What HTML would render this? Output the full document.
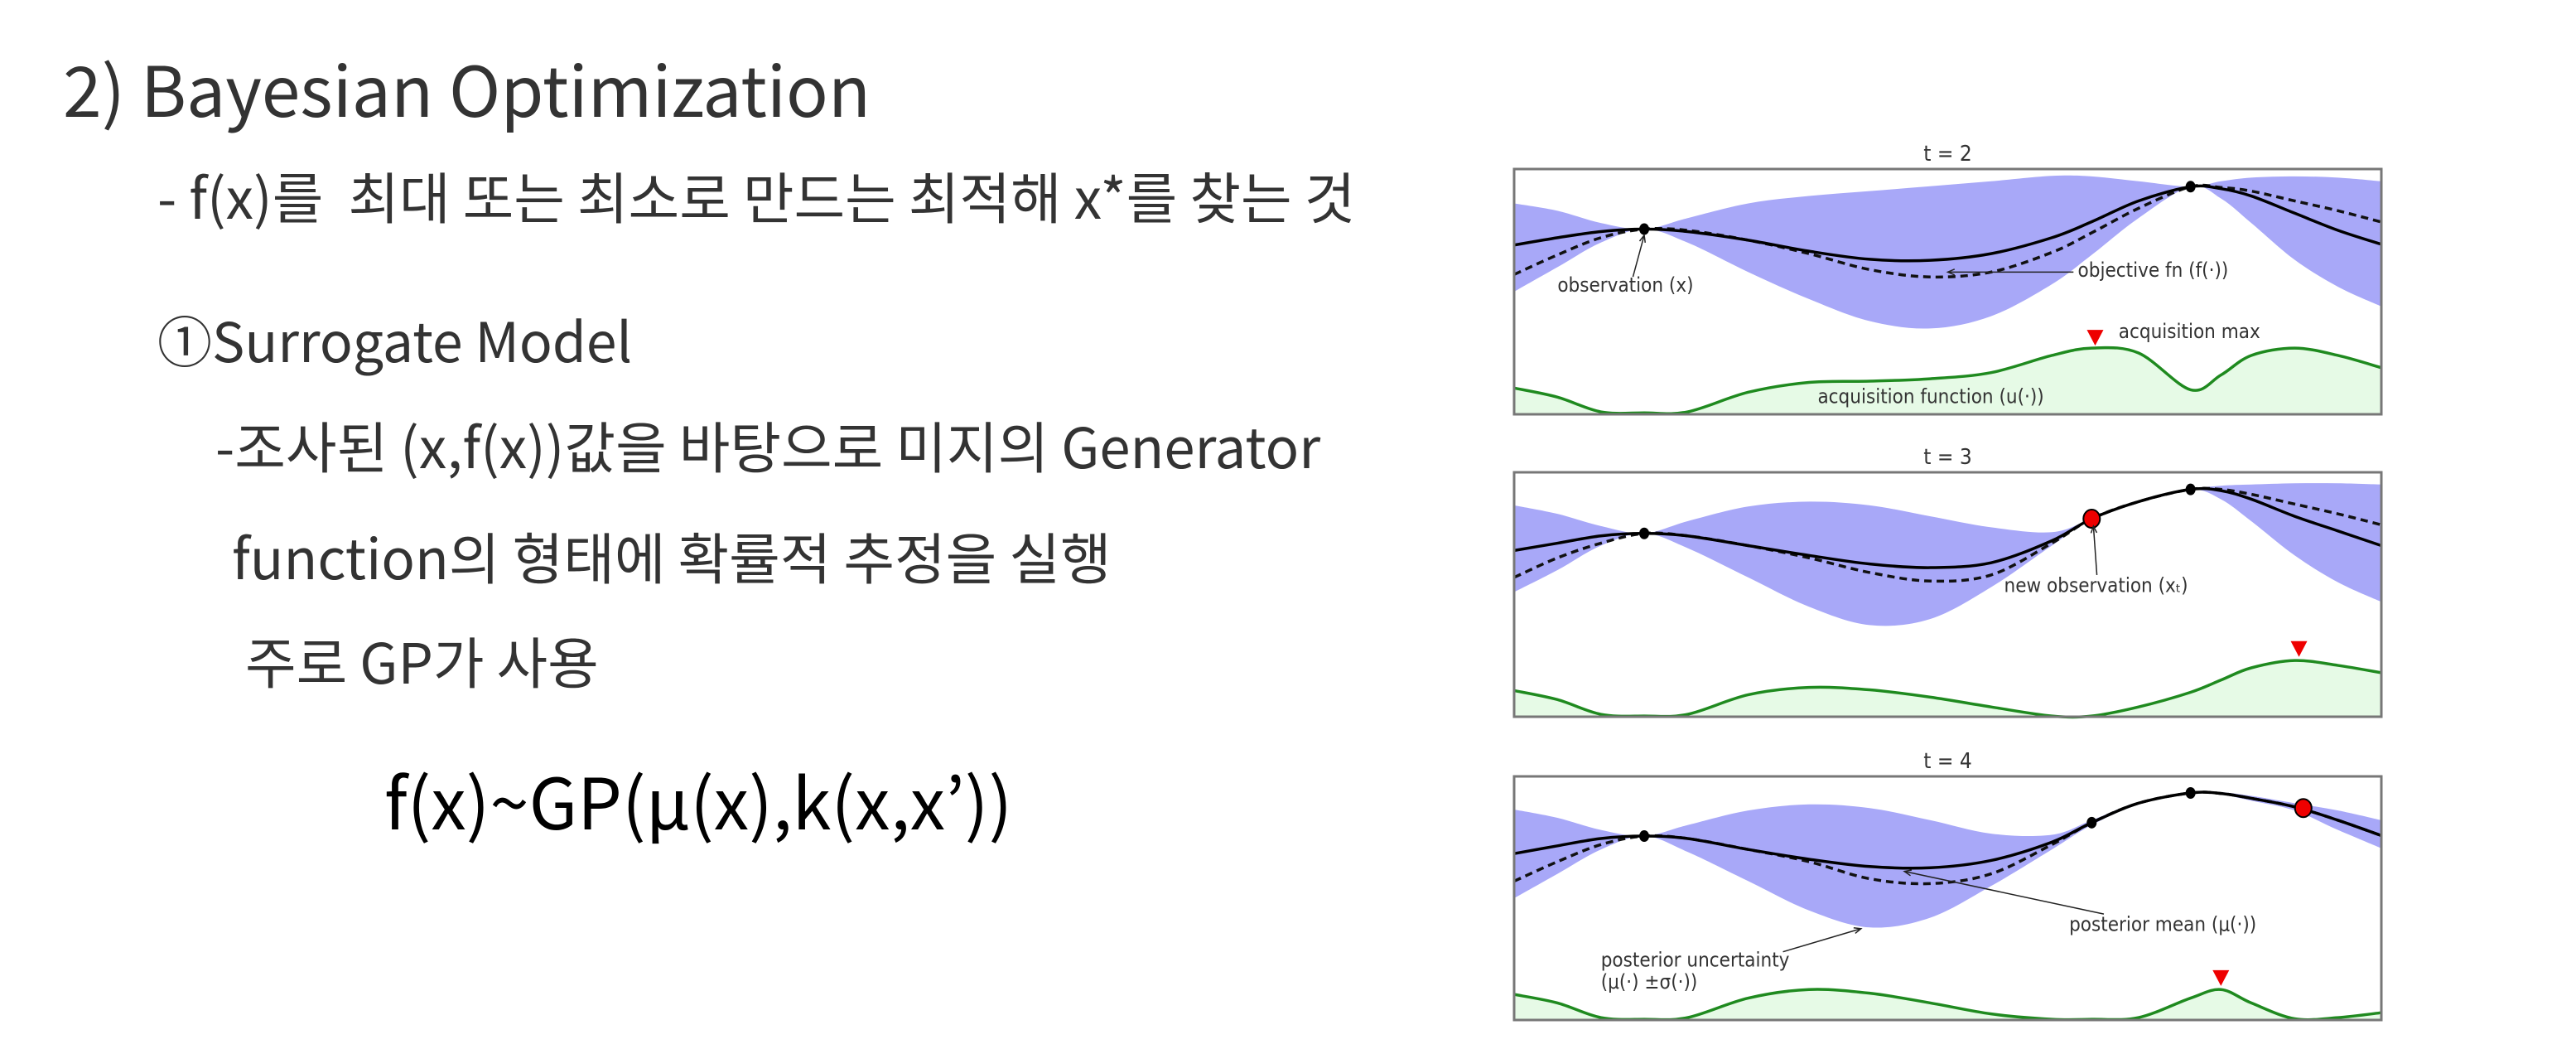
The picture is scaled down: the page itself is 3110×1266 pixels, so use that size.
<!DOCTYPE html>
<html><head><meta charset="utf-8">
<style>
html,body{margin:0;padding:0;background:#fff;}
body{width:3110px;height:1266px;position:relative;overflow:hidden;font-family:"Noto Sans CJK KR","Liberation Sans",sans-serif;color:#333;}
.t{position:absolute;white-space:nowrap;line-height:1;}
</style></head>
<body>
<div class="t" style="left:76px;top:64px;font-size:84px;">2) Bayesian Optimization</div>
<div class="t" style="left:190px;top:202px;font-size:67px;">- f(x)를&nbsp; 최대 또는 최소로 만드는 최적해 x*를 찾는 것</div>
<div class="t" style="left:190px;top:376px;font-size:66px;">①Surrogate Model</div>
<div class="t" style="left:260px;top:503px;font-size:67px;">-조사된 (x,f(x))값을 바탕으로 미지의 Generator</div>
<div class="t" style="left:280px;top:637px;font-size:67px;">function의 형태에 확률적 추정을 실행</div>
<div class="t" style="left:296px;top:763px;font-size:67px;">주로 GP가 사용</div>
<div class="t" style="left:464px;top:922px;font-size:85px;color:#000;">f(x)~GP(μ(x),k(x,x’))</div>

<svg id="chart" width="3110" height="1266" style="position:absolute;left:0;top:0;" xmlns="http://www.w3.org/2000/svg"></svg>

<script>
const gridX = [0,.05,.1,.15,.2,.27,.34,.41,.48,.55,.62,.666,.72,.78,.815,.85,.9,.95,1];
// panel t=2
const p1Mean  = [.31,.28,.255,.245,.255,.29,.335,.368,.372,.345,.28,.215,.13,.072,.08,.11,.18,.25,.307];
const p1Obj   = [.43,.35,.28,.245,.25,.29,.345,.41,.44,.42,.34,.26,.16,.072,.075,.09,.13,.17,.216];
const p1Upper = [.14,.17,.22,.245,.2,.14,.11,.09,.07,.05,.028,.03,.05,.072,.05,.035,.03,.035,.05];
const p1Lower = [.5,.4,.3,.245,.3,.42,.53,.62,.65,.6,.47,.35,.2,.072,.12,.22,.37,.48,.56];
const p1Acq   = [.893,.93,.99,.994,.99,.91,.87,.865,.855,.83,.76,.73,.75,.9,.84,.76,.73,.76,.81];
const p1ObsX = [.15,.78]; const p1ObsY = [.245,.072]; const p1NewX = []; const p1NewY = [];
const p1MaxX = .67; const p1MaxY = .72;
// panel t=3
const p2Mean  = [.32,.29,.26,.25,.26,.3,.34,.375,.39,.37,.28,.19,.12,.07,.075,.11,.18,.24,.30];
const p2Obj   = [.43,.35,.29,.25,.26,.3,.35,.41,.445,.42,.29,.19,.12,.07,.07,.09,.13,.17,.215];
const p2Upper = [.135,.17,.22,.25,.2,.14,.12,.135,.18,.225,.245,.19,.12,.07,.055,.05,.045,.045,.05];
const p2Lower = [.49,.4,.3,.25,.31,.43,.55,.625,.6,.47,.3,.19,.12,.07,.11,.2,.34,.45,.53];
const p2Acq   = [.893,.93,.99,.997,.99,.91,.88,.89,.92,.96,.997,.997,.96,.9,.85,.8,.77,.79,.82];
const p2ObsX = [.15,.78]; const p2ObsY = [.25,.07]; const p2NewX = [.666]; const p2NewY = [.19];
const p2MaxX = .905; const p2MaxY = .755;
// panel t=4
const p3Mean  = [.317,.285,.255,.245,.255,.3,.34,.37,.375,.345,.27,.19,.11,.068,.07,.09,.125,.18,.243];
const p3Obj   = [.43,.35,.28,.245,.255,.3,.35,.42,.44,.4,.28,.19,.11,.068,.07,.09,.125,.18,.243];
const p3Upper = [.136,.17,.22,.245,.2,.14,.115,.13,.18,.235,.24,.18,.105,.065,.065,.08,.11,.14,.18];
const p3Lower = [.5,.4,.3,.245,.31,.43,.55,.62,.58,.45,.3,.2,.115,.072,.075,.1,.14,.22,.295];
const p3Acq   = [.895,.93,.99,.997,.99,.91,.875,.89,.93,.975,.997,.997,.99,.91,.875,.93,.995,.99,.97];
const p3ObsX = [.15,.666,.78]; const p3ObsY = [.245,.19,.068]; const p3NewX = [.91]; const p3NewY = [.13];
const p3MaxX = .815; const p3MaxY = .86;
const panelTitles = ['t = 2','t = 3','t = 4'];

const NS = 'http://www.w3.org/2000/svg';
const svg = document.getElementById('chart');
const X0 = 1828, X1 = 2875;
const LBL_FONT = 'DejaVu Sans Condensed, DejaVu Sans, sans-serif';
function mk(tag, attrs, parent){ const e=document.createElementNS(NS,tag); for(const k in attrs) e.setAttribute(k,attrs[k]); (parent||svg).appendChild(e); return e; }
function crPath(pts, move){
  let d = move ? `M${pts[0][0]},${pts[0][1]}` : `L${pts[0][0]},${pts[0][1]}`;
  for(let i=0;i<pts.length-1;i++){
    const p0=pts[Math.max(0,i-1)], p1=pts[i], p2=pts[i+1], p3=pts[Math.min(pts.length-1,i+2)];
    const c1=[p1[0]+(p2[0]-p0[0])/6, p1[1]+(p2[1]-p0[1])/6];
    const c2=[p2[0]-(p3[0]-p1[0])/6, p2[1]-(p3[1]-p1[1])/6];
    d += ` C${c1[0]},${c1[1]} ${c2[0]},${c2[1]} ${p2[0]},${p2[1]}`;
  }
  return d;
}
function panel(idx, top, bottom, mean, obj, upper, lower, acq, obsX, obsY, newX, newY, maxX, maxY){
  const h = bottom-top;
  const sx = v => X0 + v*(X1-X0);
  const sy = v => top + v*h;
  const g = mk('g',{});
  
  
  const title = mk('text',{x:(X0+X1)/2, y:top-10, 'text-anchor':'middle', 'font-size':26, fill:'#333', 'font-family':LBL_FONT}, g);
  title.textContent = panelTitles[idx];
  
  
  const up = gridX.map((x,i)=>[sx(x),sy(upper[i])]);
  const lo = gridX.map((x,i)=>[sx(x),sy(lower[i])]).reverse();
  const band = mk('path',{d:crPath(up,true)+' '+crPath(lo,false)+' Z', fill:'#a8a8f8'}, g);
  
  
  const op = gridX.map((x,i)=>[sx(x),sy(obj[i])]);
  const ol = mk('path',{d:crPath(op,true), fill:'none', stroke:'#111', 'stroke-width':3.5, 'stroke-dasharray':'9,6'}, g);
  
  
  const mp = gridX.map((x,i)=>[sx(x),sy(mean[i])]);
  const ml = mk('path',{d:crPath(mp,true), fill:'none', stroke:'#000', 'stroke-width':3.5}, g);
  
  
  const ap = gridX.map((x,i)=>[sx(x),sy(acq[i])]);
  const af = mk('path',{d:crPath(ap,true)+` L${X1},${bottom} L${X0},${bottom} Z`, fill:'#e6fae6'}, g);
  
  
  const al = mk('path',{d:crPath(ap,true), fill:'none', stroke:'#1f8a1f', 'stroke-width':3.5}, g);
  
  
  obsX.forEach((x,i)=>{
    const c = mk('ellipse',{cx:sx(x), cy:sy(obsY[i]), rx:6, ry:7, fill:'#000'}, g);
    
    
  });
  newX.forEach((x,i)=>{
    const c = mk('ellipse',{cx:sx(x), cy:sy(newY[i]), rx:10, ry:11, fill:'#e00', stroke:'#000', 'stroke-width':2}, g);
    
    
  });
  const tx = sx(maxX), ty = sy(maxY);
  const tri = mk('path',{d:`M${tx-10},${ty-19} L${tx+10},${ty-19} L${tx},${ty} Z`, fill:'#e00'}, g);
  
  
  const box = mk('rect',{x:X0, y:top, width:X1-X0, height:h, fill:'none', stroke:'#777', 'stroke-width':3}, g);
  
  
  return {sx, sy, g};
}
function label(g, x, y, txt, name){
  const t = mk('text',{x, y, 'font-size':24, fill:'#333', 'font-family':LBL_FONT}, g);
  t.textContent = txt;
  
  
  return t;
}
function arrow(g, x1,y1,x2,y2, name){
  const l = mk('line',{x1,y1,x2,y2,stroke:'#222','stroke-width':1.5}, g);
  
  
  const a = Math.atan2(y2-y1,x2-x1), s=9;
  mk('path',{d:`M${x2-s*Math.cos(a-0.4)},${y2-s*Math.sin(a-0.4)} L${x2},${y2} L${x2-s*Math.cos(a+0.4)},${y2-s*Math.sin(a+0.4)}`, fill:'none', stroke:'#222','stroke-width':1.5}, g);
}
const A = panel(0, 204, 500, p1Mean, p1Obj, p1Upper, p1Lower, p1Acq, p1ObsX, p1ObsY, p1NewX, p1NewY, p1MaxX, p1MaxY);
label(A.g, A.sx(.05), A.sy(.5), 'observation (x)', 'observation-label');
arrow(A.g, A.sx(.137), A.sy(.44), A.sx(.15), A.sy(.27), 'observation-arrow');
label(A.g, A.sx(.65), A.sy(.44), 'objective fn (f(·))', 'objective-label');
arrow(A.g, A.sx(.645), A.sy(.42), A.sx(.5), A.sy(.42), 'objective-arrow');
label(A.g, A.sx(.697), A.sy(.69), 'acquisition max', 'acquisition-max-label');
label(A.g, A.sx(.35), A.sy(.955), 'acquisition function (u(·))', 'acquisition-label');

const B = panel(1, 570, 865, p2Mean, p2Obj, p2Upper, p2Lower, p2Acq, p2ObsX, p2ObsY, p2NewX, p2NewY, p2MaxX, p2MaxY);
label(B.g, B.sx(.565), B.sy(.49), 'new observation (xₜ)', 'new-observation-label');
arrow(B.g, B.sx(.672), B.sy(.42), B.sx(.668), B.sy(.22), 'new-observation-arrow');

const C = panel(2, 937, 1231, p3Mean, p3Obj, p3Upper, p3Lower, p3Acq, p3ObsX, p3ObsY, p3NewX, p3NewY, p3MaxX, p3MaxY);
label(C.g, C.sx(.64), C.sy(.635), 'posterior mean (μ(·))', 'posterior-mean-label');
arrow(C.g, C.sx(.68), C.sy(.565), C.sx(.45), C.sy(.39), 'posterior-mean-arrow');
label(C.g, C.sx(.1), C.sy(.78), 'posterior uncertainty', 'uncertainty-label');
label(C.g, C.sx(.1), C.sy(.87), '(μ(·) ±σ(·))', 'uncertainty-label-formula');
arrow(C.g, C.sx(.31), C.sy(.72), C.sx(.4), C.sy(.625), 'uncertainty-arrow');
</script>
</body></html>
